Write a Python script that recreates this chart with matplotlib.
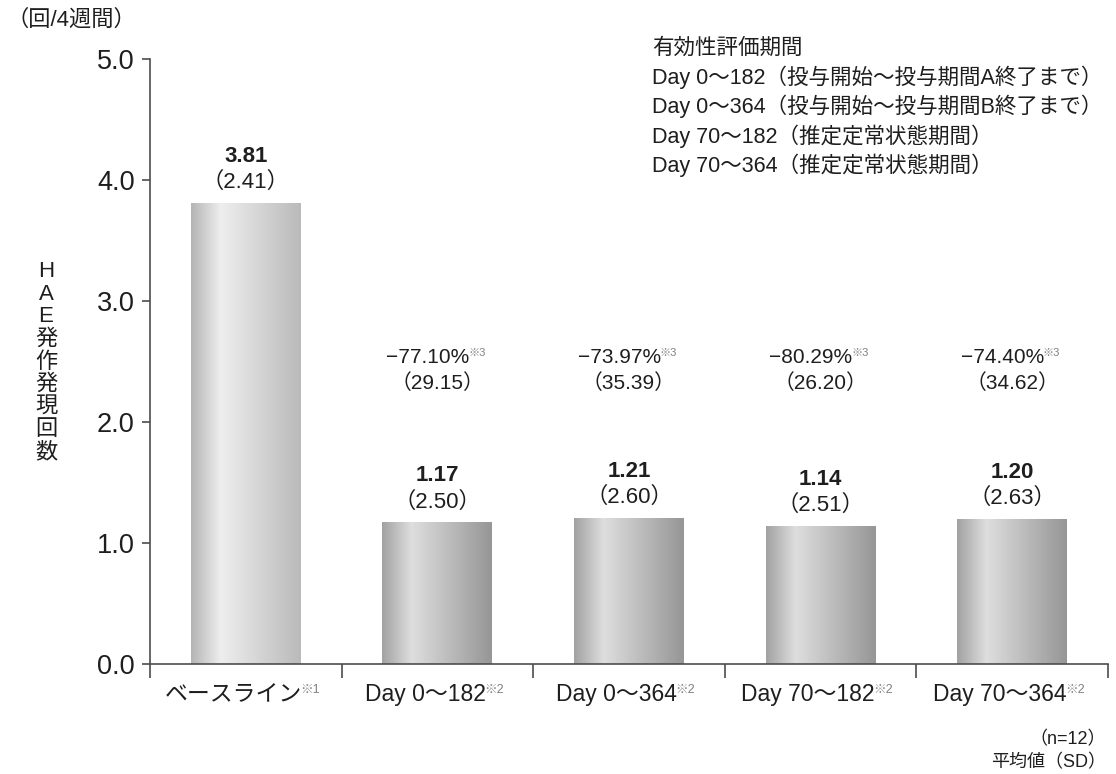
import matplotlib
matplotlib.use("Agg")
import matplotlib.pyplot as plt
import numpy as np
from matplotlib.colors import LinearSegmentedColormap

# Latin glyphs from Liberation Sans, kana/kanji fall back to Noto Sans CJK JP
plt.rcParams["font.family"] = ["Liberation Sans", "Noto Sans CJK JP"]

# 有効性評価期間ごとの HAE 発作発現回数（回/4週間）
categories = ["ベースライン", "Day 0〜182", "Day 0〜364", "Day 70〜182", "Day 70〜364"]
cat_notes = ["※1", "※2", "※2", "※2", "※2"]
means = [3.81, 1.17, 1.21, 1.14, 1.20]
sds = [2.41, 2.50, 2.60, 2.51, 2.63]
pct_change = [None, -77.10, -73.97, -80.29, -74.40]
pct_sd = [None, 29.15, 35.39, 26.20, 34.62]
yticks = [0.0, 1.0, 2.0, 3.0, 4.0, 5.0]
legend_lines = [
    "有効性評価期間",
    "Day 0〜182（投与開始〜投与期間A終了まで）",
    "Day 0〜364（投与開始〜投与期間B終了まで）",
    "Day 70〜182（推定定常状態期間）",
    "Day 70〜364（推定定常状態期間）",
]

TXT = "#1e1e1e"
SPINE = "#4d4d4d"
NOTE = "#808080"

fig = plt.figure(figsize=(11.16, 7.74), dpi=100)
ax = fig.add_axes([150 / 1116, 110 / 774, 958 / 1116, 605 / 774])

x = np.arange(len(categories))
width = 0.574
bars = ax.bar(x, means, width=width, color="none", edgecolor="none", zorder=2)

# cylinder-style grey shading for each bar
base_cmap = LinearSegmentedColormap.from_list(
    "base", [(0, "#b4b4b4"), (0.27, "#eeeeee"), (1, "#bababa")])
post_cmap = LinearSegmentedColormap.from_list(
    "post", [(0, "#a2a2a2"), (0.27, "#dedede"), (1, "#969696")])
grad = np.linspace(0, 1, 256).reshape(1, -1)
for i, bar in enumerate(bars):
    cmap = base_cmap if i == 0 else post_cmap
    x0, w, h = bar.get_x(), bar.get_width(), bar.get_height()
    im = ax.imshow(grad, cmap=cmap, aspect="auto", extent=(x0, x0 + w, 0, h),
                   interpolation="bicubic", zorder=2)
    im.set_clip_path(bar)

ax.set_xlim(-0.5, len(categories) - 0.5)
ax.set_ylim(0, 5.0)

for side in ("top", "right"):
    ax.spines[side].set_visible(False)
for side in ("left", "bottom"):
    ax.spines[side].set_color(SPINE)
    ax.spines[side].set_linewidth(1.2)

ax.set_yticks(yticks)
ax.set_yticklabels([f"{v:.1f}" for v in yticks], fontsize=19.5, color=TXT)
ax.tick_params(axis="y", length=6, width=1.2, color=SPINE, pad=5)

# category separators on the x axis
ax.set_xticks(np.arange(-0.5, len(categories), 1.0))
ax.set_xticklabels([])
ax.tick_params(axis="x", length=10, width=1.2, color=SPINE)

# category labels with small footnote marks
for i, (name, note) in enumerate(zip(categories, cat_notes)):
    t = ax.text(i - 0.065, -0.155, name, ha="center", va="top", fontsize=16.5,
                color=TXT)
    ax.annotate(note, xy=(1, 1), xycoords=t, xytext=(-1, -1),
                textcoords="offset points", ha="left", va="top",
                fontsize=9, color=NOTE)

# mean (SD) above bars
for i, (m, s) in enumerate(zip(means, sds)):
    ax.text(i, m + 0.385, f"{m:.2f}", ha="center", va="center", fontsize=16,
            color=TXT, fontweight="bold")
    ax.text(i, m + 0.17, f"（{s:.2f}）", ha="center", va="center", fontsize=16,
            color=TXT)

# percent change from baseline
for i, (p, ps) in enumerate(zip(pct_change, pct_sd)):
    if p is None:
        continue
    t = ax.text(i - 0.05, 2.537, f"−{abs(p):.2f}%", ha="center", va="center",
                fontsize=15, color=TXT)
    ax.annotate("※3", xy=(1, 1), xycoords=t, xytext=(-1, 0),
                textcoords="offset points", ha="left", va="top",
                fontsize=8, color=NOTE)
    ax.text(i, 2.32, f"（{ps:.2f}）", ha="center", va="center",
            fontsize=15, color=TXT)

# unit and vertical axis title
fig.text(6 / 1116, 1 - 20 / 774, "（回/4週間）", ha="left", va="center",
         fontsize=16, color=TXT)
fig.text(46 / 1116, 1 - 362 / 774, "\n".join("HAE発作発現回数"),
         ha="center", va="center", fontsize=16, color=TXT, linespacing=1.1)

# evaluation-period key
for k, line in enumerate(legend_lines):
    fig.text(652 / 1116, 1 - (48 + 29.3 * k) / 774, line, ha="left",
             va="center", fontsize=15.5, color=TXT)

fig.text(1106 / 1116, 1 - 740 / 774, "（n=12）", ha="right", va="center",
         fontsize=13, color=TXT)
fig.text(1106 / 1116, 1 - 763 / 774, "平均値（SD）", ha="right", va="center",
         fontsize=13, color=TXT)

fig.savefig("out.png", dpi=100, facecolor="white")
